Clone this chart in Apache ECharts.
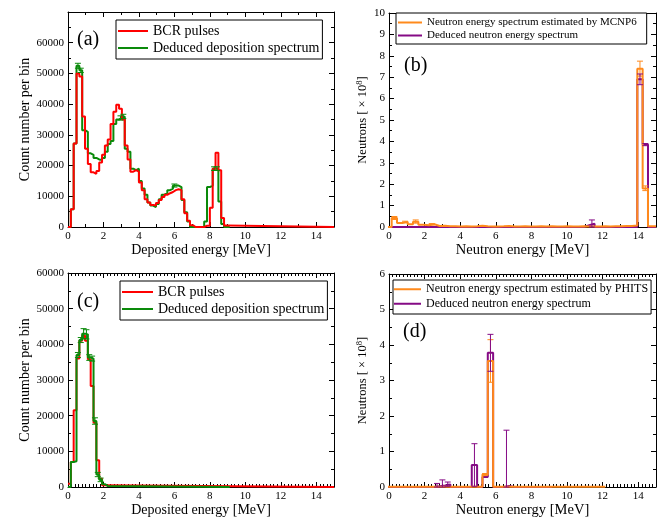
<!DOCTYPE html>
<html><head><meta charset="utf-8">
<script src="https://cdn.jsdelivr.net/npm/echarts@6/dist/echarts.min.js"></script>
<style>html,body{margin:0;padding:0;background:#fff}#c{width:662px;height:521px}</style>
</head><body><div id="c"></div>
<script>
// ---------- data ----------
const xTicks = [0, 2, 4, 6, 8, 10, 12, 14];
const depBinWidth = 0.16;      // deposited-energy bin width [MeV], bins start at 0
const neuBinWidth = 0.3;       // neutron-energy bin width [MeV]
const neuBinStart = -0.15;     // first neutron bin left edge (bins centred on multiples of 0.3)

// (a) 14 MeV source
const redA = [0, 5800, 27200, 50000, 49000, 36000, 25500, 20500, 17800, 17300, 18200, 21000, 23500, 26500, 28500, 33500, 37500, 39800, 38500, 35000, 26500, 22000, 18000, 18500, 18000, 14500, 12000, 9000, 8000, 7200, 7000, 7800, 8800, 9800, 10500, 11000, 11400, 12000, 12300, 12000, 9000, 4500, 2000, 600, 0, 0, 0, 0, 400, 400, 6300, 19000, 24200, 18500, 2900, 500, 0];
const greenA = [0, 5800, 27200, 52500, 51000, 31500, 31000, 24000, 23500, 22500, 22000, 21800, 22500, 24500, 27000, 28000, 33500, 35000, 35500, 36000, 25500, 24500, 19000, 18500, 19000, 15000, 12500, 10500, 8000, 7000, 6500, 7500, 9000, 10500, 11000, 12000, 12500, 13500, 13500, 13000, 8800, 4800, 1800, 0, 0, 0, 0, 0, 1800, 13000, 13500, 19000, 19000, 8300, 1000, 0];
const greenAErrX  = [0.56, 0.72, 2.96, 3.12, 6.00, 8.24, 8.40];
const greenAErrLo = [51700, 50300, 34800, 35300, 13000, 18400, 18400];
const greenAErrHi = [53300, 51700, 36200, 36700, 14000, 19600, 19600];

// (c) 2.5 MeV source
const redC = [900, 7000, 21500, 36000, 41000, 42500, 41000, 35800, 28300, 18000, 7500, 2300, 500, 0];
const greenC = [0, 7000, 7200, 37000, 41200, 43000, 42800, 36300, 36000, 18500, 3500, 2000, 800, 300, 0];
const greenCErrX  = [0.56, 0.72, 0.88, 1.04, 1.20, 1.36, 1.52, 1.68, 1.84];
const greenCErrLo = [36300, 40500, 41600, 41500, 35500, 35300, 17600, 2900, 1500];
const greenCErrHi = [37700, 41900, 44400, 44100, 37100, 36700, 19400, 4100, 2500];

// (b) neutron spectra, 14 MeV  (units 1e8), bins centred at 0.0, 0.3, ... 14.7
const orangeB = [0, 0.42, 0.19, 0.24, 0.13, 0.25, 0.10, 0.08, 0.13, 0.05, 0.06, 0.04, 0.03, 0.02, 0.03, 0.02, 0.03, 0.06, 0.03, 0.02, 0.02, 0.03, 0.05, 0.02, 0.02, 0.03, 0.02, 0.02, 0.03, 0.02, 0.03, 0.02, 0.02, 0.03, 0.02, 0.02, 0.03, 0.02, 0.02, 0.02, 0.03, 0.02, 0.03, 0.03, 0.05, 0.05, 0.07, 7.40, 1.80, 0.03];
const purpleB = [0, 0, 0, 0, 0, 0, 0, 0, 0, 0, 0, 0, 0, 0, 0, 0, 0, 0, 0, 0, 0, 0, 0, 0, 0, 0, 0, 0, 0, 0, 0, 0, 0, 0, 0, 0, 0, 0.08, 0.15, 0, 0, 0, 0, 0, 0, 0, 0, 6.90, 3.85, 0];
const orangeBErrX  = [0.3, 0.9, 1.5, 2.4, 14.1, 14.4];
const orangeBErrLo = [0.35, 0.20, 0.18, 0.10, 7.05, 1.70];
const orangeBErrHi = [0.49, 0.27, 0.33, 0.16, 7.75, 1.92];
const purpleBErrX  = [11.4, 14.1, 14.4];
const purpleBErrLo = [0.00, 6.65, 3.80];
const purpleBErrHi = [0.33, 7.15, 3.90];

// (d) neutron spectra, 5.5 MeV (units 1e8), bins centred at 0.0, 0.3, ...
const orangeD = [0.01, 0.01, 0.01, 0.01, 0.01, 0.01, 0.01, 0.01, 0.01, 0.01, 0.01, 0.01, 0.01, 0.01, 0.01, 0.01, 0.01, 0.01, 0.35, 3.55, 0.01, 0.01, 0.01, 0.01, 0.01, 0.01, 0.01, 0.01, 0.01, 0.01, 0.01, 0.01, 0.01, 0.01, 0.01, 0.01, 0.01, 0.01, 0.01, 0.01, 0.01];
const purpleD = [0, 0, 0, 0, 0, 0, 0, 0, 0, 0.02, 0.04, 0.07, 0, 0, 0, 0, 0.62, 0, 0.28, 3.78, 0, 0, 0.03, 0, 0, 0, 0, 0, 0, 0, 0];
const orangeDErrX  = [5.4, 5.7];
const orangeDErrLo = [0.32, 2.95];
const orangeDErrHi = [0.38, 4.15];
const purpleDErrX  = [2.7, 3.0, 3.3, 4.8, 5.7, 6.6];
const purpleDErrLo = [0.00, 0.00, 0.02, 0.02, 3.26, 0.00];
const purpleDErrHi = [0.10, 0.20, 0.14, 1.22, 4.30, 1.60];

// ---------- helpers ----------
const FONT = "'Liberation Serif','Times New Roman',serif";
const RED = '#ff0000', GREEN = '#0a8a0a', ORANGE = '#ff8a1c', PURPLE = '#850a85';

function steps(values, start, width, endX) {
  const pts = values.map((v, i) => [start + i * width, v]);
  pts.push([endX, values[values.length - 1]]);
  return pts;
}
function errData(xs, lo, hi) { return xs.map((x, i) => [x, lo[i], hi[i]]); }

function histSeries(name, color, data, gi, z) {
  return { name, type: 'line', step: 'end', xAxisIndex: gi * 2, yAxisIndex: gi * 2, data,
    symbol: 'none', showSymbol: false, z: z || 2, animation: false,
    lineStyle: { color, width: 2 }, itemStyle: { color } };
}
function errSeries(color, data, gi) {
  return { type: 'custom', xAxisIndex: gi * 2, yAxisIndex: gi * 2, data, z: 5, animation: false,
    encode: { x: 0, y: [1, 2] }, silent: true,
    renderItem: function (params, api) {
      const x = api.value(0), lo = api.value(1), hi = api.value(2);
      const p1 = api.coord([x, lo]), p2 = api.coord([x, hi]);
      const w = 3;
      const st = { stroke: color, lineWidth: 1 };
      return { type: 'group', children: [
        { type: 'line', shape: { x1: p1[0], y1: p1[1], x2: p2[0], y2: p2[1] }, style: st },
        { type: 'line', shape: { x1: p1[0] - w, y1: p1[1], x2: p1[0] + w, y2: p1[1] }, style: st },
        { type: 'line', shape: { x1: p2[0] - w, y1: p2[1], x2: p2[0] + w, y2: p2[1] }, style: st }
      ] };
    } };
}

const grids = [
  { left: 68, top: 12, width: 266, height: 215 },
  { left: 389, top: 13, width: 267, height: 214 },
  { left: 68, top: 273, width: 266, height: 214 },
  { left: 389, top: 274, width: 267, height: 213 }
];

function xAxes(gi, name, minorSplit, nameGap, nameSize) {
  const base = { type: 'value', gridIndex: gi, min: 0, max: 15, interval: 2,
    axisLine: { show: true, onZero: false, lineStyle: { color: '#000', width: 1 } },
    axisTick: { show: true, inside: true, length: 5, lineStyle: { color: '#000' } },
    minorTick: { show: true, splitNumber: minorSplit, length: 3, lineStyle: { color: '#000' } },
    splitLine: { show: false }, minorSplitLine: { show: false } };
  return [
    Object.assign({}, base, { position: 'bottom', name, nameLocation: 'middle', nameGap,
      nameTextStyle: { fontFamily: FONT, fontSize: nameSize, color: '#000' },
      axisLabel: { fontFamily: FONT, fontSize: 11, color: '#000', margin: 4, showMaxLabel: false,
        formatter: v => String(v) } }),
    Object.assign({}, base, { position: 'top', axisLabel: { show: false } })
  ];
}
function yAxes(gi, max, interval, name, nameGap, nameStyle, showMax) {
  const base = { type: 'value', gridIndex: gi, min: 0, max, interval,
    axisLine: { show: true, onZero: false, lineStyle: { color: '#000', width: 1 } },
    axisTick: { show: true, inside: true, length: 5, lineStyle: { color: '#000' } },
    minorTick: { show: true, splitNumber: 2, length: 3, lineStyle: { color: '#000' } },
    splitLine: { show: false }, minorSplitLine: { show: false } };
  return [
    Object.assign({}, base, { position: 'left', name, nameLocation: 'middle', nameGap,
      nameTextStyle: nameStyle,
      axisLabel: { fontFamily: FONT, fontSize: 11, color: '#000', margin: 4, showMaxLabel: showMax,
        formatter: v => String(v) } }),
    Object.assign({}, base, { position: 'right', axisLabel: { show: false } })
  ];
}

const countStyle = { fontFamily: FONT, fontSize: 14, color: '#000' };
const neuStyle = { fontFamily: FONT, fontSize: 12.5, color: '#000',
  rich: { a: { fontFamily: FONT, fontSize: 12.5, color: '#000' },
          s: { fontFamily: FONT, fontSize: 8.5, color: '#000', verticalAlign: 'top', padding: [0, 0, 6, 0] } } };
const neuName = '{a|Neutrons [ × 10}{s|8}{a|]}';

function legend(left, top, names, fontSize, lineH, itemW, gap, padding) {
  return { show: true, left, top, orient: 'vertical', data: names, icon: 'rect',
    itemWidth: itemW, itemHeight: 2,
    itemGap: gap, padding, borderColor: '#000', borderWidth: 1, backgroundColor: '#fff',
    selectedMode: false, z: 10,
    textStyle: { fontFamily: FONT, fontSize, lineHeight: lineH, color: '#000' } };
}

const option = {
  animation: false,
  backgroundColor: '#fff',
  grid: grids,
  xAxis: [].concat(
    xAxes(0, 'Deposited energy [MeV]', 2, 15, 14),
    xAxes(1, 'Neutron energy [MeV]', 2, 15, 14.5),
    xAxes(2, 'Deposited energy [MeV]', 10, 13, 14),
    xAxes(3, 'Neutron energy [MeV]', 10, 13, 14.5)),
  yAxis: [].concat(
    yAxes(0, 70000, 10000, 'Count number per bin', 32, countStyle, false),
    yAxes(1, 10, 1, neuName, 19, neuStyle, true),
    yAxes(2, 60000, 10000, 'Count number per bin', 32, countStyle, true),
    yAxes(3, 6, 1, neuName, 19, neuStyle, true)),
  legend: [
    legend(116, 20, ['BCR pulses', 'Deduced deposition spectrum'], 14, 14, 30, 3, [4, 3, 4, 2]),
    legend(396, 13, ['Neutron energy spectrum estimated by MCNP6', 'Deduced neutron energy spectrum'], 11, 11, 24, 2, [4, 10, 3, 2]),
    legend(120, 281, ['BCR pulses', 'Deduced deposition spectrum'], 14, 14, 31, 3, [4, 3, 4, 2]),
    legend(393, 280, ['Neutron energy spectrum estimated by PHITS', 'Deduced neutron energy spectrum'], 12, 12.5, 27, 2, [3, 3, 4, 1])
  ],
  graphic: [
    { type: 'text', left: 77, top: 30, style: { text: '(a)', font: '20px ' + FONT, fill: '#000' } },
    { type: 'text', left: 404, top: 56, style: { text: '(b)', font: '20px ' + FONT, fill: '#000' } },
    { type: 'text', left: 77, top: 292, style: { text: '(c)', font: '20px ' + FONT, fill: '#000' } },
    { type: 'text', left: 403, top: 322, style: { text: '(d)', font: '20px ' + FONT, fill: '#000' } }
  ],
  series: [
    histSeries('Deduced deposition spectrum', GREEN, steps(greenA, 0, depBinWidth, 9.12), 0, 2),
    histSeries('BCR pulses', RED, steps(redA, 0, depBinWidth, 15), 0, 3),
    errSeries(GREEN, errData(greenAErrX, greenAErrLo, greenAErrHi), 0),

    histSeries('Deduced neutron energy spectrum', PURPLE, steps(purpleB, neuBinStart, neuBinWidth, 15), 1, 2),
    histSeries('Neutron energy spectrum estimated by MCNP6', ORANGE, steps(orangeB, neuBinStart, neuBinWidth, 15), 1, 3),
    errSeries(ORANGE, errData(orangeBErrX, orangeBErrLo, orangeBErrHi), 1),
    errSeries(PURPLE, errData(purpleBErrX, purpleBErrLo, purpleBErrHi), 1),

    histSeries('Deduced deposition spectrum', GREEN, steps(greenC, 0, depBinWidth, 9.12), 2, 3),
    histSeries('BCR pulses', RED, steps(redC, 0, depBinWidth, 15), 2, 2),
    errSeries(GREEN, errData(greenCErrX, greenCErrLo, greenCErrHi), 2),

    histSeries('Deduced neutron energy spectrum', PURPLE, steps(purpleD, neuBinStart, neuBinWidth, 9.15), 3, 2),
    histSeries('Neutron energy spectrum estimated by PHITS', ORANGE, steps(orangeD, neuBinStart, neuBinWidth, 12.15), 3, 3),
    errSeries(ORANGE, errData(orangeDErrX, orangeDErrLo, orangeDErrHi), 3),
    errSeries(PURPLE, errData(purpleDErrX, purpleDErrLo, purpleDErrHi), 3)
  ]
};
const chart = echarts.init(document.getElementById('c'), null, { renderer: 'canvas' });
chart.setOption(option);
</script></body></html>
